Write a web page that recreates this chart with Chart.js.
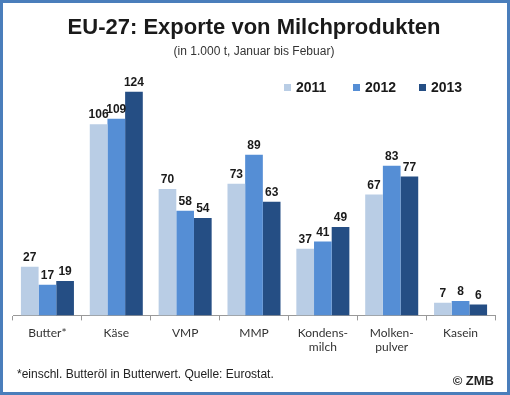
<!DOCTYPE html>
<html>
<head>
<meta charset="utf-8">
<script src="https://cdn.jsdelivr.net/npm/chart.js@4"></script>
<style>
  html, body { margin: 0; padding: 0; background: #fff; }
  #frame {
    width: 510px; height: 395px; box-sizing: border-box;
    border: 3px solid #4a7ebb; background: #fff;
  }
  canvas { display: block; }
</style>
</head>
<body>
<div id="frame"><canvas id="chart" width="504" height="389"></canvas></div>
<script>
// categories and values (1.000 t, Jan-Feb)
const categories = ["Butter*", "Käse", "VMP", "MMP", ["Kondens-", "milch"], ["Molken-", "pulver"], "Kasein"];
const years = ["2011", "2012", "2013"];
const values2011 = [27, 106, 70, 73, 37, 67, 7];
const values2012 = [17, 109, 58, 89, 41, 83, 8];
const values2013 = [19, 124, 54, 63, 49, 77, 6];
const colors = ["#b9cde5", "#558ed5", "#254e84"];

// ---------- VALUE LABELS + LEGEND + FOOTNOTE ----------
const extras = {
  id: "extras",
  afterDatasetsDraw(chart) {
    const ctx = chart.ctx;
    ctx.save();
    ctx.fillStyle = "#1a1a1a";
    ctx.font = "bold 12px 'Liberation Sans', Arial";
    ctx.textAlign = "center";
    ctx.textBaseline = "bottom";
    chart.data.datasets.forEach((ds, i) => {
      chart.getDatasetMeta(i).data.forEach((bar, j) => {
        ctx.fillText(ds.data[j], bar.x, bar.y - 3);
      });
    });

    // legend
    const legendX = [281, 350, 416];
    ctx.textAlign = "left";
    ctx.textBaseline = "middle";
    ctx.font = "bold 14px 'Liberation Sans', Arial";
    chart.data.datasets.forEach((ds, i) => {
      ctx.fillStyle = ds.backgroundColor;
      ctx.fillRect(legendX[i], 81, 7, 7);
      ctx.fillStyle = "#1a1a1a";
      ctx.fillText(ds.label, legendX[i] + 12, 85);
    });

    // footnote and source
    ctx.font = "12px 'Liberation Sans', Arial";
    ctx.fillStyle = "#222";
    ctx.fillText("*einschl. Butteröl in Butterwert. Quelle: Eurostat.", 14, 372);
    ctx.font = "bold 13px 'Liberation Sans', Arial";
    ctx.textAlign = "right";
    ctx.fillText("© ZMB", 491, 378);
    ctx.restore();
  }
};

new Chart(document.getElementById("chart"), {
  type: "bar",
  data: {
    labels: categories,
    datasets: [
      { label: years[0], data: values2011, backgroundColor: colors[0] },
      { label: years[1], data: values2012, backgroundColor: colors[1] },
      { label: years[2], data: values2013, backgroundColor: colors[2] },
    ],
  },
  options: {
    responsive: false,
    animation: false,
    layout: { padding: { left: 10, right: 12, top: 0, bottom: 32 } },
    datasets: { bar: { categoryPercentage: 0.77, barPercentage: 1.0 } },
    plugins: {
      legend: { display: false },
      tooltip: { enabled: false },
      title: {
        display: true,
        text: "EU-27: Exporte von Milchprodukten",
        color: "#1a1a1a",
        font: { family: "'Liberation Sans', Arial", size: 22, weight: "bold" },
        padding: { top: 12, bottom: 3 },
      },
      subtitle: {
        display: true,
        text: "(in 1.000 t, Januar bis Febuar)",
        color: "#333",
        font: { family: "'Liberation Sans', Arial", size: 12 },
        padding: { bottom: 4 },
      },
    },
    scales: {
      x: {
        grid: { display: true, drawOnChartArea: false, tickLength: 5, color: "#999" },
        border: { color: "#999" },
        ticks: { color: "#333", font: { family: "Lato", size: 12, lineHeight: 1.15 }, padding: 6, maxRotation: 0 },
      },
      y: {
        display: false,
        min: 0,
        max: 140,
      },
    },
  },
  plugins: [extras],
});
</script>
</body>
</html>
